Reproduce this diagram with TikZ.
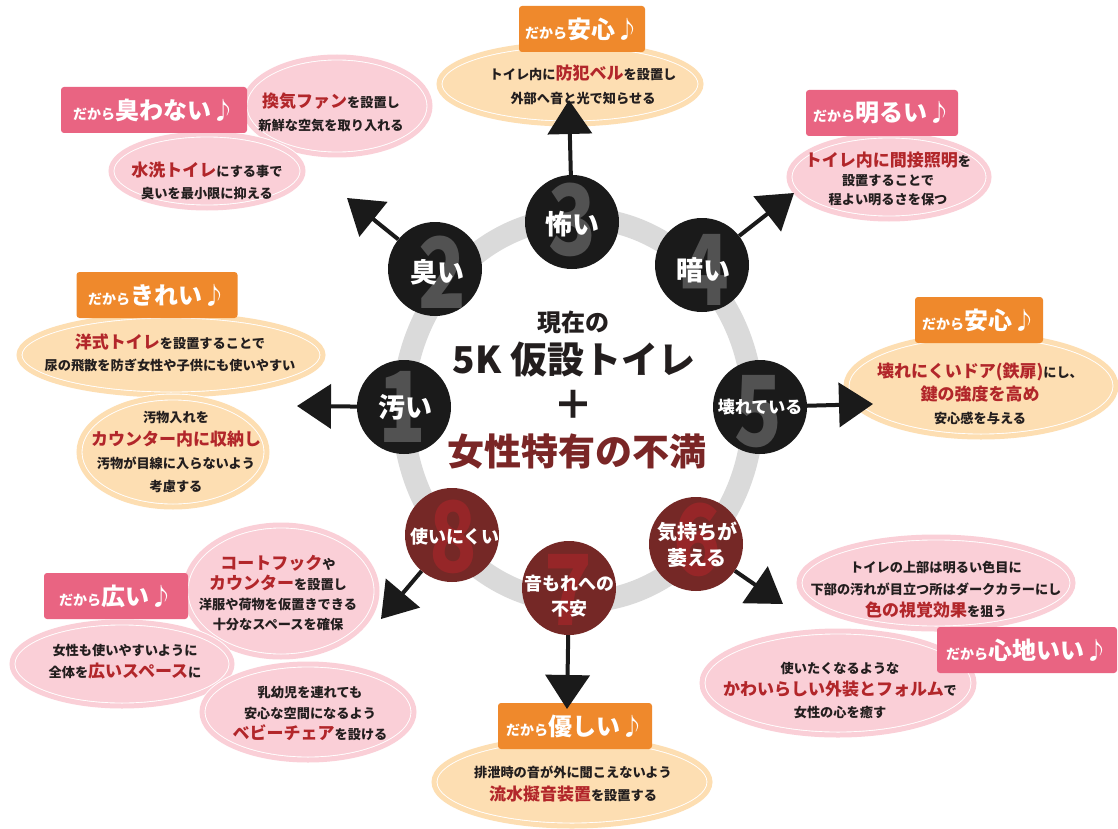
\documentclass[tikz,border=0pt]{standalone}
\usepackage{fontspec}
\setmainfont{Noto Sans CJK JP}
\usetikzlibrary{shapes.geometric,arrows.meta}
\definecolor{orbox}{RGB}{239,137,44}
\definecolor{pkbox}{RGB}{233,100,130}
\definecolor{peach}{RGB}{253,222,178}
\definecolor{pinkb}{RGB}{250,207,215}
\definecolor{txtred}{RGB}{178,38,42}
\definecolor{txtblk}{RGB}{35,30,30}
\definecolor{darkc}{RGB}{26,26,26}
\definecolor{darkd}{RGB}{82,82,82}
\definecolor{redc}{RGB}{117,40,38}
\definecolor{redd}{RGB}{150,38,40}
\definecolor{ringg}{RGB}{218,218,218}
\definecolor{ctrred}{RGB}{122,38,38}
\newcommand\rd[1]{{\color{txtred}\fontsize{17}{17}\selectfont #1}}
\newcommand\fs[1]{\fontsize{#1}{#1}\selectfont}
\newcommand\dakara[1]{{\fs{14}だから}{\fs{24}#1}}
\newcommand\bigdig[1]{\scalebox{0.8}[1]{\fs{98}#1}}
\begin{document}
\begin{tikzpicture}[x=1pt,y=-1pt,
 bub/.style={ellipse, inner sep=0pt, line width=0.9pt, draw=white, double distance=5pt},
 pbub/.style={bub, fill=peach, double=peach},
 kbub/.style={bub, fill=pinkb, double=pinkb},
 dbox/.style={rounded corners=3pt, minimum height=46pt, inner sep=0pt, text=white, font=\bfseries},
 obox/.style={dbox, fill=orbox},
 kbox/.style={dbox, fill=pkbox},
 txt/.style={align=center, inner sep=0pt, text=txtblk, font=\bfseries\fontsize{13.2}{#1}\selectfont},
 circ/.style={circle, minimum size=94pt, inner sep=0pt},
 dcirc/.style={circ, fill=darkc},
 rcirc/.style={circ, fill=redc},
 dig/.style={inner sep=0pt, font=\bfseries},
 clab/.style={align=center, inner sep=0pt, text=white, font=\bfseries\fontsize{#1}{#1}\selectfont},
 arr/.style={line width=4pt, draw=darkc, -{Triangle[length=34pt,width=44pt]}},
]
\fill[white] (0,0) rectangle (1118,829);
\useasboundingbox (0,0) rectangle (1118,829);

% ---------- group 3 (top)
\node[pbub, minimum width=262pt, minimum height=80pt] (e3) at (570,84) {};
\node[obox, minimum width=126pt] (b3) at (582,29) {\dakara{安心♪}};
\node[txt=24] (t3) at (583,85) {トイレ内に\rd{防犯ベル}を設置し\\外部へ音と光で知らせる};

% ---------- group 2 (upper left)
\node[kbub, minimum width=186pt, minimum height=98pt] (e2a) at (337,106) {};
\node[kbub, minimum width=192pt, minimum height=74pt] (e2b) at (207,171) {};
\node[kbox, minimum width=186pt] (b2) at (154,110) {\dakara{臭わない♪}};
\node[txt=23] (t2a) at (331,112) {\rd{換気ファン}を設置し\\新鮮な空気を取り入れる};
\node[txt=22] (t2b) at (207,181) {\rd{水洗トイレ}にする事で\\臭いを最小限に抑える};

% ---------- group 4 (upper right)
\node[kbub, minimum width=200pt, minimum height=84pt] (e4) at (889,177) {};
\node[kbox, minimum width=152pt] (b4) at (882,113) {\dakara{明るい♪}};
\node[txt=19] (t4) at (888,179) {\rd{トイレ内に間接照明}を\\設置することで\\程よい明るさを保つ};

% ---------- group 1 (left)
\node[pbub, minimum width=304pt, minimum height=80pt] (e1a) at (171,355) {};
\node[pbub, minimum width=188pt, minimum height=110pt] (e1b) at (173,452) {};
\node[obox, minimum width=161pt] (b1) at (157,295) {\dakara{きれい♪}};
\node[txt=22] (t1a) at (170,353) {\rd{洋式トイレ}を設置することで\\尿の飛散を防ぎ女性や子供にも使いやすい};
\node[txt=23] (t1b) at (176,452) {汚物入れを\\\rd{カウンター内に収納し}\\汚物が目線に入らないよう\\考慮する};

% ---------- group 5 (right)
\node[pbub, minimum width=270pt, minimum height=102pt] (e5) at (981,386) {};
\node[obox, minimum width=128pt] (b5) at (979,320) {\dakara{安心♪}};
\node[txt=23] (t5) at (980,394) {\rd{壊れにくいドア(鉄扉)}にし、\\\rd{鍵の強度を高め}\\安心感を与える};

% ---------- group 6 (lower right)
\node[kbub, minimum width=274pt, minimum height=92pt] (e6a) at (936,583) {};
\node[kbub, minimum width=272pt, minimum height=104pt] (e6b) at (838,683) {};
\node[kbox, minimum width=180pt] (b6) at (1027,650) {\dakara{心地いい♪}};
\node[txt=22] (t6a) at (936,590) {トイレの上部は明るい色目に\\下部の汚れが目立つ所はダークカラーにし\\\rd{色の視覚効果}を狙う};
\node[txt=22] (t6b) at (840,690) {使いたくなるような\\\rd{かわいらしい外装とフォルム}で\\女性の心を癒す};

% ---------- group 7 (bottom)
\node[pbub, minimum width=276pt, minimum height=88pt] (e7) at (572,782) {};
\node[obox, minimum width=154pt] (b7) at (575,726) {\dakara{優しい♪}};
\node[txt=23] (t7) at (573,784) {排泄時の音が外に聞こえないよう\\\rd{流水擬音装置}を設置する};

% ---------- group 8 (lower left)
\node[kbub, minimum width=192pt, minimum height=132pt] (e8a) at (281,591) {};
\node[kbub, minimum width=220pt, minimum height=84pt] (e8b) at (122,664) {};
\node[kbub, minimum width=212pt, minimum height=96pt] (e8c) at (308,712) {};
\node[kbox, minimum width=144pt] (b8) at (116,596) {\dakara{広い♪}};
\node[txt=20] (t8a) at (278,593) {\rd{コートフック}や\\\rd{カウンター}を設置し\\洋服や荷物を仮置きできる\\十分なスペースを確保};
\node[txt=22] (t8b) at (125,662) {女性も使いやすいように\\全体を\rd{広いスペース}に};
\node[txt=21] (t8c) at (310,713) {乳幼児を連れても\\安心な空間になるよう\\\rd{ベビーチェア}を設ける};

% ---------- ring
\draw[ringg, line width=22pt] (578,410) ellipse [x radius=175, y radius=192];

% ---------- circles
\node[dcirc] (c1) at (404,407) {};
\node[dig, text=darkd] (d1) at (402,407) {\bigdig{1}};
\node[clab=27] (l1) at (405,407) {汚い};

\node[dcirc] (c2) at (435,269) {};
\node[dig, text=darkd] (d2) at (442,272) {\bigdig{2}};
\node[clab=27] (l2) at (437,272) {臭い};

\node[dcirc] (c3) at (572,222) {};
\node[dig, text=darkd] (d3) at (572,220) {\bigdig{3}};
\node[clab=27] (l3) at (572,224) {怖い};

\node[dcirc] (c4) at (702,265) {};
\node[dig, text=darkd] (d4) at (705,270) {\bigdig{4}};
\node[clab=27] (l4) at (703,270) {暗い};

\node[dcirc] (c5) at (760,407) {};
\node[dig, text=darkd] (d5) at (758,412) {\bigdig{5}};
\node[clab=17] (l5) at (760,407) {壊れている};

\node[rcirc] (c6) at (696,544) {};
\node[dig, text=redd] (d6) at (697,540) {\bigdig{6}};
\node[clab=20, font=\bfseries\fontsize{20}{26}\selectfont] (l6) at (697,545) {気持ちが\\萎える};

\node[rcirc] (c7) at (569,588) {};
\node[dig, text=redd] (d7) at (568,590) {\bigdig{7}};
\node[clab=18, font=\bfseries\fontsize{18}{25}\selectfont] (l7) at (569,596) {音もれへの\\不安};

\node[rcirc] (c8) at (452,535) {};
\node[dig, text=redd] (d8) at (453,537) {\bigdig{8}};
\node[clab=18] (l8) at (455,537) {使いにくい};

% ---------- centre text
\node[font=\bfseries\fs{24}, text=txtblk, inner sep=0pt] (ct1) at (573,322) {現在の};
\node[font=\bfseries\fs{37}, text=txtblk, inner sep=0pt] (ct2) at (574,360) {5K 仮設トイレ};
\node[font=\bfseries\fs{40}, text=txtblk, inner sep=0pt] (ct3) at (573,405) {＋};
\node[font=\bfseries\fs{37}, text=ctrred, inner sep=0pt] (ct4) at (577,452) {女性特有の不満};

% ---------- arrows
\coordinate (a1) at (297,406);
\coordinate (a2) at (347,198);
\coordinate (a3) at (569,100);
\coordinate (a4) at (794,193);
\coordinate (a5) at (873,404);
\coordinate (a6) at (783,604);
\coordinate (a7) at (567,709);
\coordinate (a8) at (381,619);
\draw[arr] (c1) -- (a1);
\draw[arr] (c2) -- (a2);
\draw[arr] (c3) -- (a3);
\draw[arr] (c4) -- (a4);
\draw[arr] (c5) -- (a5);
\draw[arr] (c6) -- (a6);
\draw[arr] (c7) -- (a7);
\draw[arr] (c8) -- (a8);
\end{tikzpicture}
\end{document}
